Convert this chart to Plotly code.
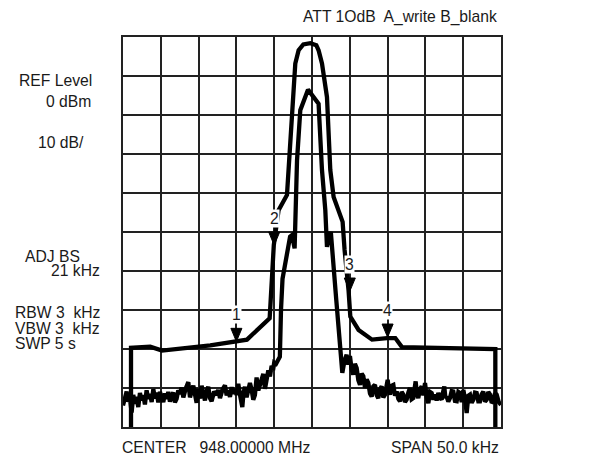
import plotly.graph_objects as go

# ---------------- data ----------------
# frequency offsets from centre (kHz), levels in dBm
a_freq = [-23.94, -23.94, -21.4, -19.84, -13.45, -10.0, -8.6, -5.6, -5.05, -4.42,
          -3.31, -2.21, -1.77, -1.15, -0.22, 0.57, 0.87, 1.32, 1.98, 2.42,
          2.86, 4.05, 4.31, 4.84, 5.07, 6.16, 7.94, 9.92, 11.02, 11.9,
          24.25, 24.25]
a_level = [-100, -79.7, -79.4, -80.4, -79.1, -78.1, -77.6, -72.1, -53.3, -44.4,
           -40.5, -6.8, -3.4, -1.9, -1.6, -2.1, -3.4, -6.8, -15.4, -34.1,
           -41.0, -47.4, -54.6, -65.1, -71.7, -75.1, -77.6, -77.2, -77.2, -79.5,
           -80.0, -100]

# trace B: left noise floor, carrier, right noise floor
b_left_freq = [-25.00, -24.78, -24.52, -24.30, -24.08, -23.86, -23.64, -23.42, -23.20, -22.98,
               -22.76, -22.54, -22.32, -22.10, -21.88, -21.65, -21.43, -21.21, -20.99, -20.77,
               -20.55, -20.33, -20.11, -19.89, -19.67, -19.45, -19.23, -19.01, -18.79, -18.57,
               -18.35, -18.13, -17.91, -17.69, -17.47, -17.25, -17.02, -16.70, -16.36, -16.14,
               -15.92, -15.70, -15.48, -15.26, -15.04, -14.82, -14.60, -14.38, -14.16, -13.94,
               -13.72, -13.50, -13.28, -12.95, -12.62, -12.40, -12.17, -11.84, -11.51, -11.29,
               -11.07, -10.85, -10.63, -10.41, -10.19, -9.97, -9.75, -9.50, -9.22, -9.05,
               -8.87, -8.65, -8.43, -8.21, -7.99, -7.77, -7.55, -7.33, -7.10, -6.88,
               -6.66, -6.44, -6.22, -6.00, -5.78, -5.56, -5.34, -5.15, -5.00, -4.75,
               -4.50, -4.25]
b_left_level = [-94.5, -92.3, -90.9, -93.5, -92.6, -96.3, -91.8, -94.0, -92.3, -94.9,
                -91.3, -93.2, -91.8, -94.2, -90.6, -92.8, -91.5, -93.6, -90.3, -92.7,
                -91.2, -93.7, -91.0, -92.5, -93.6, -91.4, -92.8, -91.0, -93.5, -91.9,
                -91.2, -93.7, -92.8, -90.6, -91.5, -89.9, -92.4, -90.1, -88.5, -92.4,
                -90.9, -89.4, -91.6, -93.8, -90.2, -92.7, -89.4, -91.5, -93.2, -90.8,
                -89.7, -92.6, -93.4, -90.9, -91.8, -90.5, -92.6, -90.4, -89.3, -91.9,
                -90.6, -92.3, -89.8, -91.5, -90.2, -91.8, -88.9, -92.0, -94.9, -91.2,
                -89.7, -92.4, -90.8, -88.7, -90.4, -93.0, -91.8, -87.3, -90.6, -89.3,
                -87.6, -86.4, -90.2, -87.2, -85.5, -87.0, -84.3, -85.4, -83.5, -83.8,
                -82.6, -82.0]
b_mid_freq = [-4.1, -3.9, -2.9, -2.65, -2.3, -1.98, -1.55, -0.53, 0.87, 1.32,
              1.76, 1.98, 2.29, 2.49, 3.21, 4.01]
b_mid_level = [-70.0, -62.0, -51.2, -50.8, -54.2, -31.6, -18.8, -13.5, -17.1, -34.1,
               -44.4, -53.8, -51.0, -50.0, -67.4, -86.1]
b_right_freq = [4.30, 4.58, 4.80, 5.02, 5.24, 5.46, 5.68, 5.91, 6.13, 6.35,
                6.57, 6.79, 7.01, 7.23, 7.45, 7.67, 7.89, 8.11, 8.33, 8.55,
                8.77, 8.99, 9.21, 9.43, 9.65, 9.83, 10.01, 10.17, 10.32, 10.54,
                10.76, 10.98, 11.20, 11.42, 11.64, 11.86, 12.08, 12.30, 12.52, 12.74,
                12.96, 13.18, 13.40, 13.55, 13.71, 13.88, 14.06, 14.28, 14.51, 14.73,
                14.95, 15.17, 15.39, 15.61, 15.83, 16.05, 16.27, 16.49, 16.71, 16.93,
                17.15, 17.32, 17.50, 17.65, 17.81, 18.03, 18.25, 18.47, 18.69, 18.91,
                19.14, 19.36, 19.58, 19.80, 20.02, 20.24, 20.46, 20.68, 20.90, 21.12,
                21.34, 21.56, 21.78, 22.00, 22.22, 22.44, 22.66, 22.88, 23.10, 23.32,
                23.55, 23.77, 23.99, 24.21, 24.43, 24.70, 25.00]
b_right_level = [-83.0, -81.5, -84.0, -81.8, -85.2, -86.6, -83.8, -84.9, -88.0, -89.2,
                 -86.3, -87.0, -90.0, -87.8, -88.7, -91.4, -92.2, -89.6, -89.2, -91.8,
                 -92.6, -90.3, -89.6, -92.4, -91.7, -89.9, -87.9, -90.6, -91.7, -89.4,
                 -89.2, -92.0, -90.9, -92.8, -93.4, -91.0, -91.7, -93.6, -93.0, -91.2,
                 -90.0, -92.9, -92.6, -90.4, -88.3, -91.6, -92.6, -90.3, -89.6, -91.9,
                 -88.7, -92.3, -93.9, -91.0, -91.3, -93.0, -91.7, -93.2, -91.3, -92.4,
                 -93.0, -91.2, -89.6, -92.6, -92.2, -93.5, -92.6, -90.8, -90.9, -93.3,
                 -93.4, -91.0, -91.3, -93.6, -90.5, -92.8, -96.4, -92.0, -91.7, -93.8,
                 -93.0, -91.2, -91.3, -93.4, -93.4, -91.6, -90.9, -93.5, -93.0, -91.0,
                 -91.7, -93.8, -93.4, -91.3, -91.7, -93.6, -94.3]

marker_labels = ["1", "2", "3", "4"]
marker_freq = [-10.0, -5.0, 5.0, 10.0]
marker_level = [-78.1, -53.4, -65.2, -77.0]

left_labels = ["REF Level", "0 dBm", "10 dB/", "ADJ BS", "21 kHz",
               "RBW 3  kHz", "VBW 3  kHz", "SWP 5 s"]
top_label = "ATT 1OdB  A_write B_blank"
bottom_left_label = "CENTER   948.00000 MHz"
bottom_right_label = "SPAN 50.0 kHz"

# ---------------- style ----------------
FONT = "Liberation Sans, Arial, sans-serif"
FS = 15.7
TXT = "#1a1a1a"
GRID = "#222222"
LW = 4.3
TRI_HALF_W = 0.73   # kHz
TRI_H = 3.4         # dB

b_freq = b_left_freq + b_mid_freq + b_right_freq
b_level = b_left_level + b_mid_level + b_right_level

fig = go.Figure()

fig.add_trace(go.Scatter(x=b_freq, y=b_level, mode="lines",
                         line=dict(color="black", width=LW), hoverinfo="skip"))
fig.add_trace(go.Scatter(x=a_freq, y=a_level, mode="lines",
                         line=dict(color="black", width=LW), hoverinfo="skip"))

# marker triangles built from marker data
tx, ty = [], []
for f, l in zip(marker_freq, marker_level):
    tx += [f - TRI_HALF_W, f + TRI_HALF_W, f, f - TRI_HALF_W, None]
    ty += [l + TRI_H, l + TRI_H, l, l + TRI_H, None]
fig.add_trace(go.Scatter(x=tx, y=ty, mode="lines", fill="toself",
                         fillcolor="black", line=dict(color="black", width=1),
                         hoverinfo="skip"))

for lab, f, l in zip(marker_labels, marker_freq, marker_level):
    fig.add_annotation(x=f, y=l, yshift=27, text=lab, showarrow=False,
                       bgcolor="white", borderpad=0,
                       font=dict(family=FONT, size=FS, color=TXT))

# info text placed in paper coordinates derived from pixel positions
W, H = 595, 455
ML, MR, MT, MB = 123, 94, 37, 28
pw, ph = W - ML - MR, H - MT - MB

def px_to_paper(x, y):
    return (x - ML) / pw, 1 - (y - MT) / ph

left_pos = [(17, 80, "left"), (93, 102, "right"), (86, 143, "right"),
            (23, 256, "left"), (102, 270.5, "right"),
            (13, 312.5, "left"), (13, 328.5, "left"), (13, 343.5, "left")]
for txt, (x, y, al) in zip(left_labels, left_pos):
    xp, yp = px_to_paper(x, y)
    fig.add_annotation(x=xp, y=yp, xref="paper", yref="paper", text=txt,
                       showarrow=False, xanchor=al, yanchor="middle",
                       font=dict(family=FONT, size=FS, color=TXT))

for txt, (x, y, al) in zip([top_label, bottom_left_label, bottom_right_label],
                           [(499, 17, "right"), (120, 447, "left"), (501, 447, "right")]):
    xp, yp = px_to_paper(x, y)
    fig.add_annotation(x=xp, y=yp, xref="paper", yref="paper", text=txt,
                       showarrow=False, xanchor=al, yanchor="middle",
                       font=dict(family=FONT, size=FS, color=TXT))

fig.update_xaxes(range=[-25, 25], dtick=5, tick0=-25, showgrid=True, gridcolor=GRID,
                 gridwidth=1.5, zeroline=False, showticklabels=False, ticks="",
                 showline=True, linecolor=GRID, linewidth=1.5, mirror=True)
fig.update_yaxes(range=[-100, 0], dtick=10, tick0=-100, showgrid=True, gridcolor=GRID,
                 gridwidth=1.5, zeroline=False, showticklabels=False, ticks="",
                 showline=True, linecolor=GRID, linewidth=1.5, mirror=True)

fig.update_layout(width=W, height=H, margin=dict(l=ML, r=MR, t=MT, b=MB),
                  paper_bgcolor="white", plot_bgcolor="white", showlegend=False,
                  font=dict(family=FONT, size=FS, color=TXT))

fig.write_html("out.html")
